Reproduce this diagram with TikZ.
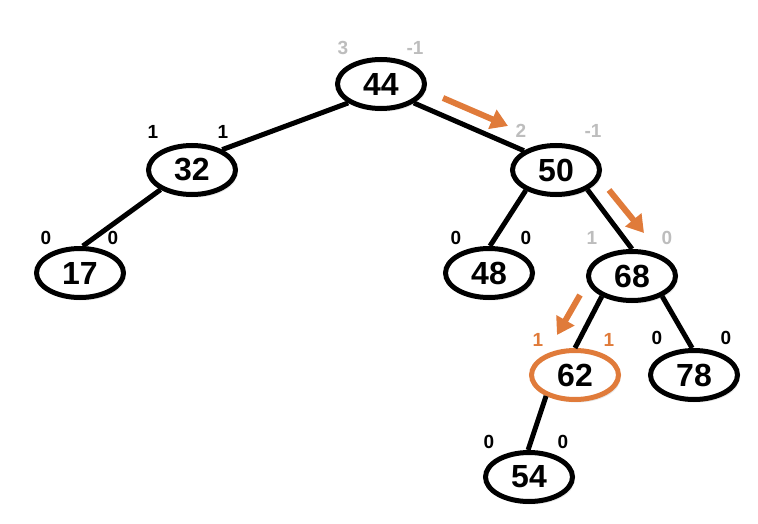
\documentclass[tikz,border=0pt]{standalone}
\usepackage{fontspec}
\setmainfont{Liberation Sans}
\usetikzlibrary{arrows.meta,shadows,shapes.geometric}
\definecolor{hl}{HTML}{E07B3A}
\definecolor{gr}{HTML}{BDBDBD}
\tikzset{
  key/.style={ellipse, draw=black, line width=5pt, fill=white, minimum width=87pt, minimum height=49pt, inner sep=0pt,
    font=\fontsize{32}{32}\selectfont\bfseries,
    drop shadow={opacity=0.2, shadow xshift=2pt, shadow yshift=-3pt}},
  hot/.style={key, draw=hl},
  edge/.style={line width=5pt, black},
  bal/.style={font=\fontsize{19}{19}\selectfont\bfseries, inner sep=0pt, text=black},
  balg/.style={bal, text=gr},
  balo/.style={bal, text=hl},
  route/.style={line width=6pt, hl, -{Triangle[length=17pt,width=20pt]}}
}
\begin{document}
\begin{tikzpicture}[x=1pt,y=-1pt]
\useasboundingbox (0,0) rectangle (758,524);
\node[key] (n44) at (381,84) {44};
\node[key] (n32) at (192,170) {32};
\node[key] (n50) at (556,170) {50};
\node[key] (n17) at (80,273) {17};
\node[key] (n48) at (489,273) {48};
\node[key] (n68) at (632,276) {68};
\node[hot] (n62) at (575,375) {62};
\node[key] (n78) at (694,375) {78};
\node[key] (n54) at (529,477) {54};

\draw[edge] (n44.210) -- (n32.34);
\draw[edge] (n44.330) -- (n50.149);
\draw[edge] (n32.212) -- (n17.84);
\draw[edge] (n50.214) -- (n48.88);
\draw[edge] (n50.328) -- (n68.90);
\draw[edge] (n68.214) -- (n62.90);
\draw[edge] (n68.326) -- (n78.94);
\draw[edge] (n62.216) -- (n54.92);

\node[balg] (a44) at (343,48) {3};
\node[balg] (b44) at (415,48) {-1};
\node[balg] (a50) at (521,131) {2};
\node[balg] (b50) at (593,131) {-1};
\node[bal] (a32) at (153,132) {1};
\node[bal] (b32) at (223,132) {1};
\node[bal] (a17) at (46,238) {0};
\node[bal] (b17) at (113,238) {0};
\node[bal] (a48) at (456,238) {0};
\node[bal] (b48) at (526,238) {0};
\node[balg] (a68) at (592,238) {1};
\node[balg] (b68) at (667,238) {0};
\node[balo] (a62) at (538,340) {1};
\node[balo] (b62) at (609,340) {1};
\node[bal] (a78) at (657,338) {0};
\node[bal] (b78) at (726,338) {0};
\node[bal] (a54) at (489,442) {0};
\node[bal] (b54) at (563,442) {0};

\coordinate (p1s) at (443,98);
\coordinate (p1e) at (508,126);
\coordinate (p2s) at (609,190);
\coordinate (p2e) at (644,233);
\coordinate (p3s) at (580,295);
\coordinate (p3e) at (557,335);
\draw[route] (p1s) -- (p1e);
\draw[route] (p2s) -- (p2e);
\draw[route] (p3s) -- (p3e);
\end{tikzpicture}
\end{document}
